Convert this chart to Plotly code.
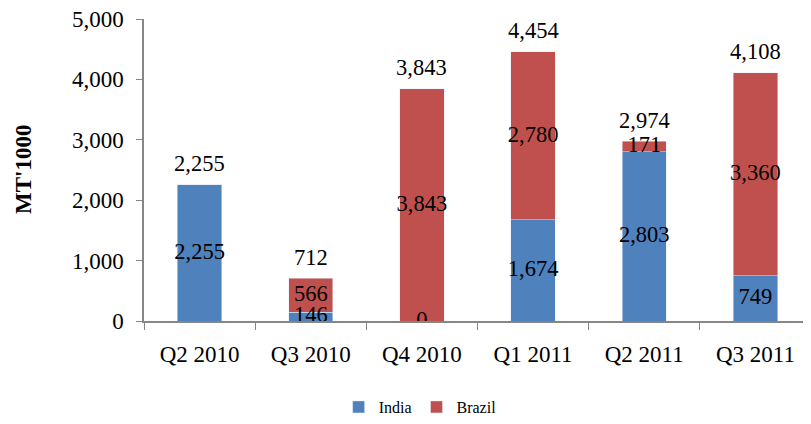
import plotly.graph_objects as go

categories = ["Q2 2010", "Q3 2010", "Q4 2010", "Q1 2011", "Q2 2011", "Q3 2011"]
india = [2255, 146, 0, 1674, 2803, 749]
brazil = [0, 566, 3843, 2780, 171, 3360]
totals = [2255, 712, 3843, 4454, 2974, 4108]
india_labels = ["2,255", "146", "0", "1,674", "2,803", "749"]
brazil_labels = ["", "566", "3,843", "2,780", "171", "3,360"]
total_labels = ["2,255", "712", "3,843", "4,454", "2,974", "4,108"]

BLUE = "#4F81BD"
RED = "#C0504D"
FONT = "Liberation Serif"
LBL = 22.5

fig = go.Figure()
fig.add_trace(go.Bar(x=categories, y=india, name="India", marker_color=BLUE))
fig.add_trace(go.Bar(x=categories, y=brazil, name="Brazil", marker_color=RED))

lblfont = dict(family=FONT, size=LBL, color="black")
fig.add_trace(go.Scatter(x=categories, y=[v / 2 for v in india], text=india_labels,
                         mode="text", textposition="middle center", showlegend=False,
                         textfont=lblfont, hoverinfo="skip"))
fig.add_trace(go.Scatter(x=categories, y=[i + b / 2 for i, b in zip(india, brazil)], text=brazil_labels,
                         mode="text", textposition="middle center", showlegend=False,
                         textfont=lblfont, hoverinfo="skip"))

annotations = [dict(x=c, y=t, text=lab, showarrow=False, xanchor="center", yanchor="middle",
                    yshift=21, font=lblfont)
               for c, t, lab in zip(categories, totals, total_labels)]
annotations.append(dict(text="<b>MT'1000</b>", textangle=-90, xref="paper", yref="paper",
                        x=-0.1814, y=0.5, xanchor="center", yanchor="middle", showarrow=False,
                        font=dict(family=FONT, size=23, color="black")))

# page body has an 8px margin; figure is sized/offset to compensate
fig.update_layout(
    barmode="stack",
    bargap=0.6,
    width=803, height=416,
    margin=dict(l=136, r=0, t=11, b=102),
    plot_bgcolor="white", paper_bgcolor="white",
    font=dict(family=FONT, size=LBL, color="black"),
    legend=dict(orientation="h", x=0.414, xanchor="center", y=-0.284, yanchor="middle",
                font=dict(family=FONT, size=16, color="black"), traceorder="normal", itemwidth=30),
    xaxis=dict(showline=True, linecolor="#868686", linewidth=1.5, ticks="outside",
               tickson="boundaries", ticklen=7, tickcolor="#868686", showgrid=False,
               automargin=False, ticklabelstandoff=12, tickfont=dict(size=23)),
    yaxis=dict(range=[0, 5000], dtick=1000, tickformat=",", showline=True, linecolor="#868686",
               linewidth=1.5, ticks="outside", ticklen=6, tickcolor="#868686", showgrid=False,
               zeroline=False, automargin=False, ticklabelstandoff=8, tickfont=dict(size=23),
               ticklabeloverflow="allow"),
    annotations=annotations,
)

fig.write_html("out.html")
